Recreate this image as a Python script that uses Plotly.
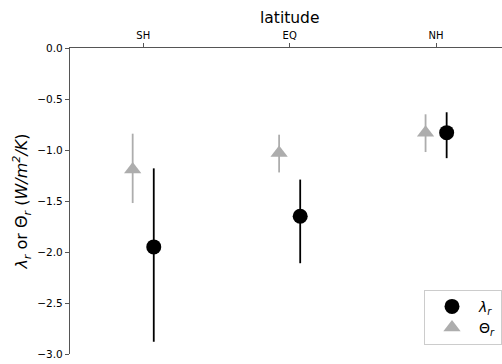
import plotly.graph_objects as go

categories = ["SH", "EQ", "NH"]
lambda_r = [-1.95, -1.65, -0.83]
lambda_hi = [-1.18, -1.29, -0.63]
lambda_lo = [-2.88, -2.11, -1.08]
theta_r = [-1.19, -1.03, -0.83]
theta_hi = [-0.84, -0.85, -0.65]
theta_lo = [-1.52, -1.22, -1.02]
y_ticks = [0.0, -0.5, -1.0, -1.5, -2.0, -2.5, -3.0]

pos = list(range(len(categories)))
off = 0.072
FONT = "DejaVu Sans"
GRAY = "#adadad"

fig = go.Figure()
fig.add_trace(go.Scatter(
    x=[p + off for p in pos], y=lambda_r, mode="markers",
    name="<i>λ<sub>r</sub></i>",
    marker=dict(symbol="circle", size=15, color="black"),
    error_y=dict(type="data", symmetric=False,
                 array=[h - v for h, v in zip(lambda_hi, lambda_r)],
                 arrayminus=[v - l for l, v in zip(lambda_lo, lambda_r)],
                 color="black", thickness=1.8, width=0),
))
fig.add_trace(go.Scatter(
    x=[p - off for p in pos], y=theta_r, mode="markers",
    name="Θ<sub><i>r</i></sub>",
    marker=dict(symbol="triangle-up", size=15, color=GRAY),
    error_y=dict(type="data", symmetric=False,
                 array=[h - v for h, v in zip(theta_hi, theta_r)],
                 arrayminus=[v - l for l, v in zip(theta_lo, theta_r)],
                 color=GRAY, thickness=1.8, width=0),
))

fig.update_layout(
    width=502, height=364,
    margin=dict(l=70, r=0, t=48, b=10),
    plot_bgcolor="white", paper_bgcolor="white",
    font=dict(family=FONT, color="black", size=10),
    legend=dict(x=1, xanchor="right", y=0.03, yanchor="bottom",
                bordercolor="#cccccc", borderwidth=1,
                font=dict(size=14), itemwidth=44, tracegroupgap=0),
    xaxis=dict(side="top", range=[-0.5, 2.45], tickmode="array",
               tickvals=pos, ticktext=categories, showgrid=False,
               zeroline=False, showline=True, linecolor="#555555",
               linewidth=1.2, ticks="outside", ticklen=4,
               tickcolor="#555555", tickfont=dict(size=10)),
    yaxis=dict(range=[-3.0, 0.0], tickmode="array", tickvals=y_ticks,
               ticktext=[f"{v:.1f}".replace("-", "−") for v in y_ticks],
               showgrid=False, zeroline=False, showline=True,
               linecolor="#555555", linewidth=1.2, ticks="outside",
               ticklen=4, tickcolor="#555555", tickfont=dict(size=10.5),
               title=dict(text="<i>λ<sub>r</sub></i> or Θ<sub><i>r</i></sub> (<i>W/m<sup>2</sup>/K</i>)",
                          font=dict(size=16), standoff=5)),
)
fig.add_annotation(x=1, xref="x", y=1, yref="paper", yanchor="middle",
                   yshift=30, text="latitude", showarrow=False,
                   font=dict(size=15.5))

fig.write_html("out.html")
